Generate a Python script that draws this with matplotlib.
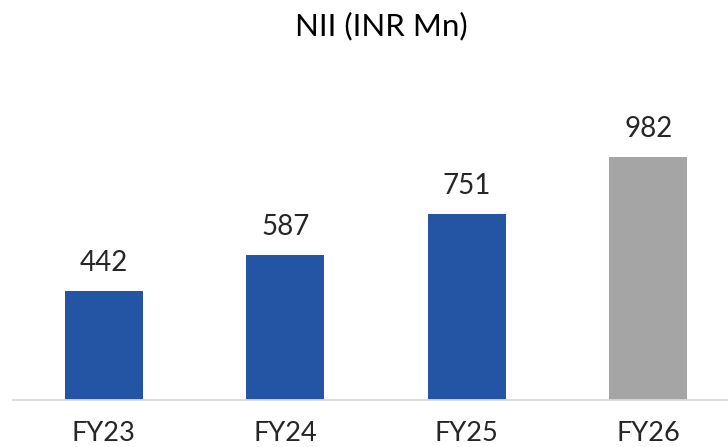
import matplotlib
matplotlib.use("Agg")
import matplotlib.pyplot as plt

categories = ["FY23", "FY24", "FY25", "FY26"]
values = [442, 587, 751, 982]
colors = ["#2455A4", "#2455A4", "#2455A4", "#A5A5A5"]
title = "NII (INR Mn)"

plt.rcParams['font.family'] = ['Lato', 'DejaVu Sans']

W, H = 728, 447
fig = plt.figure(figsize=(W / 100, H / 100), dpi=100)
ax = fig.add_axes([13 / W, 47 / H, 715 / W, 340 / H])
x = list(range(len(categories)))
bars = ax.bar(x, values, width=0.43, color=colors)
ax.set_xlim(-0.5, 3.44)
ax.set_ylim(0, 1374)

for xi, v in zip(x, values):
    ax.annotate(f"{v}", (xi, v), xytext=(0, 14.4), textcoords="offset points",
                ha="center", va="baseline", fontsize=20, color="#262626")

ax.set_xticks(x)
ax.set_xticklabels(categories, fontsize=19.5, color="#262626")
ax.tick_params(axis="x", length=0, pad=15)
ax.set_yticks([])
for s in ["left", "right", "top"]:
    ax.spines[s].set_visible(False)
ax.spines["bottom"].set_color("#D9D9D9")
ax.spines["bottom"].set_linewidth(1.3)

fig.text(381 / W, 1 - 35 / H, title, ha="center", va="baseline", fontsize=22.5, color="black")

fig.savefig("out.png", dpi=100)
